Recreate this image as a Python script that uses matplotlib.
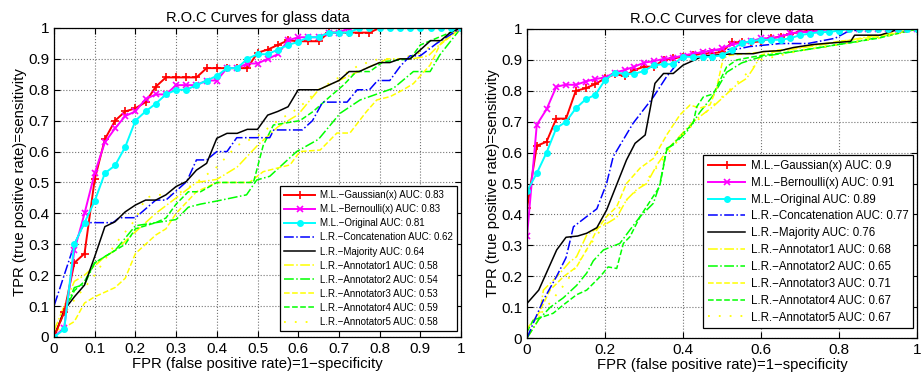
import numpy as np
import matplotlib.pyplot as plt

plt.rcParams['font.family'] = ['Liberation Sans', 'DejaVu Sans']

# shared FPR grid (step 1/40) used by the marker curves
fpr_steps = [0, 0.025, 0.05, 0.075, 0.1, 0.125, 0.15, 0.175, 0.2, 0.225,
             0.25, 0.275, 0.3, 0.325, 0.35, 0.375, 0.4, 0.425, 0.45, 0.475,
             0.5, 0.525, 0.55, 0.575, 0.6, 0.625, 0.65, 0.675, 0.7, 0.725,
             0.75, 0.775, 0.8, 0.825, 0.85, 0.875, 0.9, 0.925, 0.95, 0.975, 1.0]

# ---------------- glass data ----------------
glass_gauss_fpr = fpr_steps[:33] + [1.0]
glass_gauss_tpr = [0, 0.08, 0.24, 0.27, 0.51, 0.64, 0.70, 0.73, 0.74, 0.76,
                   0.81, 0.84, 0.84, 0.84, 0.84, 0.87, 0.87, 0.87, 0.87, 0.87,
                   0.92, 0.93, 0.945, 0.96, 0.957, 0.957, 0.957, 0.985, 0.985, 0.985,
                   0.985, 0.985, 1.0, 1.0]
glass_bern_fpr = fpr_steps[:30] + [1.0]
glass_bern_tpr = [0, 0.03, 0.28, 0.40, 0.53, 0.63, 0.675, 0.715, 0.73, 0.77,
                  0.785, 0.785, 0.815, 0.815, 0.815, 0.83, 0.83, 0.87, 0.87, 0.885,
                  0.885, 0.90, 0.915, 0.96, 0.97, 0.97, 0.97, 0.985, 0.985, 1.0, 1.0]
glass_orig_fpr = fpr_steps
glass_orig_tpr = [0, 0.025, 0.30, 0.37, 0.44, 0.53, 0.555, 0.615, 0.70, 0.73,
                  0.755, 0.785, 0.80, 0.80, 0.815, 0.83, 0.845, 0.87, 0.87, 0.90,
                  0.915, 0.915, 0.93, 0.945, 0.955, 0.97, 0.97, 0.985, 0.985, 0.985,
                  1.0, 1.0, 1.0, 1.0, 1.0, 1.0, 1.0, 1.0, 1.0, 1.0, 1.0]
glass_concat_fpr = [0, 0, 0.025, 0.05, 0.075, 0.145, 0.16, 0.2, 0.25, 0.275, 0.326,
                    0.35, 0.375, 0.4, 0.425, 0.449, 0.53, 0.54, 0.61, 0.635, 0.66,
                    0.72, 0.745, 0.775, 0.795, 0.825, 0.85, 0.875, 0.9, 0.94, 1.0]
glass_concat_tpr = [0, 0.1, 0.2, 0.30, 0.37, 0.37, 0.386, 0.386, 0.443, 0.443, 0.503,
                    0.573, 0.573, 0.60, 0.60, 0.645, 0.645, 0.67, 0.67, 0.70, 0.76,
                    0.76, 0.80, 0.80, 0.83, 0.83, 0.875, 0.91, 0.91, 0.95, 1.0]
glass_major_fpr = fpr_steps
glass_major_tpr = [0, 0.087, 0.13, 0.168, 0.26, 0.357, 0.373, 0.405, 0.427, 0.443,
                   0.443, 0.46, 0.487, 0.503, 0.54, 0.562, 0.643, 0.659, 0.659, 0.672,
                   0.672, 0.718, 0.73, 0.745, 0.80, 0.80, 0.80, 0.815, 0.83, 0.859,
                   0.859, 0.874, 0.888, 0.888, 0.90, 0.90, 0.929, 0.959, 0.959, 0.987, 1.0]
glass_a1_fpr = [0, 0.025, 0.05, 0.075, 0.1, 0.125, 0.15, 0.2, 0.25, 0.3, 0.35, 0.4,
                0.45, 0.5, 0.55, 0.6, 0.65, 0.7, 0.75, 0.82, 0.88, 0.92, 0.95, 1.0]
glass_a1_tpr = [0.02, 0.1, 0.18, 0.2, 0.23, 0.26, 0.28, 0.34, 0.40, 0.45, 0.50, 0.51,
                0.55, 0.62, 0.68, 0.72, 0.80, 0.83, 0.86, 0.90, 0.90, 0.91, 0.95, 1.0]
glass_a2_fpr = [0, 0.025, 0.05, 0.075, 0.1, 0.125, 0.15, 0.2, 0.25, 0.3, 0.33, 0.36,
                0.4, 0.473, 0.498, 0.53, 0.596, 0.65, 0.703, 0.752, 0.834, 0.883,
                0.924, 0.948, 1.0]
glass_a2_tpr = [0, 0.08, 0.16, 0.17, 0.24, 0.26, 0.28, 0.36, 0.37, 0.38, 0.42, 0.43,
                0.44, 0.46, 0.508, 0.52, 0.60, 0.64, 0.724, 0.767, 0.805, 0.859,
                0.859, 0.913, 1.0]
glass_a3_fpr = [0, 0.025, 0.05, 0.075, 0.1, 0.15, 0.175, 0.2, 0.225, 0.25, 0.275, 0.3,
                0.35, 0.4, 0.48, 0.514, 0.58, 0.604, 0.654, 0.695, 0.727, 0.768,
                0.793, 0.826, 0.858, 0.883, 0.924, 0.948, 1.0]
glass_a3_tpr = [0.02, 0.03, 0.05, 0.11, 0.13, 0.16, 0.19, 0.27, 0.30, 0.33, 0.35, 0.40,
                0.47, 0.50, 0.50, 0.535, 0.557, 0.60, 0.605, 0.66, 0.66, 0.73,
                0.767, 0.778, 0.80, 0.82, 0.88, 0.945, 1.0]
glass_a4_fpr = [0, 0.025, 0.05, 0.075, 0.1, 0.125, 0.15, 0.175, 0.2, 0.25, 0.275, 0.3,
                0.33, 0.36, 0.4, 0.49, 0.514, 0.539, 0.604, 0.637, 0.678, 0.711,
                0.743, 0.776, 0.809, 0.875, 0.9, 0.94, 1.0]
glass_a4_tpr = [0, 0.08, 0.15, 0.18, 0.24, 0.26, 0.28, 0.30, 0.35, 0.37, 0.385, 0.43,
                0.47, 0.47, 0.50, 0.50, 0.62, 0.686, 0.70, 0.73, 0.778, 0.815,
                0.859, 0.859, 0.891, 0.90, 0.945, 0.967, 1.0]
glass_a5_fpr = [0, 0.05, 0.1, 0.15, 0.2, 0.225, 0.25, 0.3, 0.35, 0.4, 0.45, 0.5,
                0.55, 0.6, 0.65, 0.7, 0.75, 0.8, 0.85, 0.9, 0.95, 1.0]
glass_a5_tpr = [0.03, 0.12, 0.2, 0.3, 0.38, 0.45, 0.46, 0.46, 0.5, 0.55, 0.62, 0.65,
                0.70, 0.74, 0.80, 0.84, 0.88, 0.90, 0.90, 0.92, 0.96, 1.0]
glass_auc = [0.83, 0.83, 0.81, 0.62, 0.64, 0.58, 0.54, 0.53, 0.59, 0.58]

# ---------------- cleve data ----------------
cleve_gauss_fpr = fpr_steps
cleve_gauss_tpr = [0.42, 0.622, 0.635, 0.71, 0.71, 0.80, 0.808, 0.822, 0.84, 0.854,
                   0.848, 0.867, 0.878, 0.878, 0.90, 0.905, 0.91, 0.915, 0.92, 0.922,
                   0.925, 0.957, 0.957, 0.957, 0.96, 0.97, 0.975, 0.985, 0.99, 0.995,
                   1.0, 1.0, 1.0, 1.0, 1.0, 1.0, 1.0, 1.0, 1.0, 1.0, 1.0]
cleve_bern_fpr = fpr_steps
cleve_bern_tpr = [0.33, 0.69, 0.74, 0.813, 0.82, 0.819, 0.83, 0.838, 0.843, 0.859,
                  0.867, 0.878, 0.891, 0.896, 0.903, 0.907, 0.914, 0.92, 0.925, 0.93,
                  0.937, 0.95, 0.955, 0.96, 0.97, 0.97, 0.975, 0.986, 0.99, 0.99,
                  0.995, 1.0, 1.0, 1.0, 1.0, 1.0, 1.0, 1.0, 1.0, 1.0, 1.0]
cleve_orig_fpr = fpr_steps
cleve_orig_tpr = [0.475, 0.533, 0.60, 0.679, 0.70, 0.743, 0.772, 0.787, 0.835, 0.859,
                  0.855, 0.855, 0.864, 0.883, 0.886, 0.886, 0.91, 0.91, 0.91, 0.91,
                  0.915, 0.932, 0.955, 0.96, 0.965, 0.965, 0.965, 0.97, 0.98, 0.985,
                  0.99, 0.99, 0.995, 1.0, 1.0, 1.0, 1.0, 1.0, 1.0, 1.0, 1.0]
cleve_concat_fpr = [0, 0.02, 0.042, 0.076, 0.1, 0.119, 0.153, 0.179, 0.204, 0.221,
                    0.272, 0.324, 0.358, 0.384, 0.41, 0.478, 0.54, 0.57, 0.65, 0.72,
                    0.79, 0.82, 0.86, 1.0]
cleve_concat_tpr = [0.0, 0.06, 0.123, 0.2, 0.26, 0.36, 0.393, 0.418, 0.50, 0.587,
                    0.695, 0.78, 0.846, 0.886, 0.916, 0.932, 0.935, 0.943, 0.953, 0.953,
                    0.97, 0.99, 1.0, 1.0]
cleve_major_fpr = [0, 0.03, 0.076, 0.1, 0.13, 0.153, 0.179, 0.204, 0.226, 0.255, 0.277,
                   0.303, 0.328, 0.35, 0.375, 0.40, 0.43, 0.452, 0.48, 0.53, 0.58,
                   0.606, 0.65, 0.683, 0.735, 0.83, 0.84, 0.905, 0.955, 1.0]
cleve_major_tpr = [0.112, 0.155, 0.285, 0.326, 0.33, 0.339, 0.357, 0.414, 0.484, 0.576,
                   0.63, 0.657, 0.824, 0.856, 0.856, 0.883, 0.90, 0.913, 0.915, 0.92,
                   0.92, 0.927, 0.93, 0.94, 0.95, 0.96, 0.98, 0.98, 1.0, 1.0]
cleve_a1_fpr = [0, 0.03, 0.042, 0.076, 0.11, 0.127, 0.153, 0.179, 0.204, 0.23, 0.255,
                0.281, 0.307, 0.333, 0.367, 0.426, 0.478, 0.538, 0.563, 0.58, 0.6,
                0.64, 0.726, 0.81, 0.897, 1.0]
cleve_a1_tpr = [0.0, 0.06, 0.155, 0.198, 0.247, 0.263, 0.333, 0.355, 0.37, 0.39, 0.447,
                0.48, 0.50, 0.56, 0.62, 0.70, 0.75, 0.82, 0.84, 0.872, 0.916,
                0.927, 0.943, 0.96, 0.98, 1.0]
cleve_a2_fpr = [0, 0.03, 0.06, 0.093, 0.127, 0.153, 0.17, 0.196, 0.238, 0.264, 0.29,
                0.324, 0.341, 0.358, 0.375, 0.41, 0.444, 0.478, 0.512, 0.55, 0.6,
                0.65, 0.75, 0.85, 1.0]
cleve_a2_tpr = [0, 0.06, 0.1, 0.13, 0.17, 0.21, 0.25, 0.285, 0.306, 0.35, 0.393,
                0.436, 0.50, 0.614, 0.625, 0.668, 0.732, 0.786, 0.86, 0.89, 0.91,
                0.92, 0.94, 0.96, 1.0]
cleve_a3_fpr = [0, 0.03, 0.059, 0.093, 0.127, 0.162, 0.179, 0.204, 0.23, 0.255, 0.29,
                0.324, 0.358, 0.392, 0.418, 0.443, 0.469, 0.486, 0.503, 0.52, 0.6,
                0.7, 0.8, 0.9, 1.0]
cleve_a3_tpr = [0.03, 0.08, 0.155, 0.198, 0.23, 0.306, 0.35, 0.393, 0.425, 0.50, 0.55,
                0.581, 0.657, 0.722, 0.754, 0.744, 0.754, 0.808, 0.905, 0.915, 0.925,
                0.94, 0.96, 0.975, 1.0]
cleve_a4_fpr = [0, 0.016, 0.067, 0.093, 0.127, 0.153, 0.187, 0.208, 0.23, 0.247, 0.264,
                0.29, 0.34, 0.358, 0.384, 0.40, 0.426, 0.435, 0.452, 0.478, 0.512,
                0.538, 0.58, 0.7, 0.8, 0.9, 1.0]
cleve_a4_tpr = [0.02, 0.058, 0.08, 0.107, 0.14, 0.155, 0.198, 0.23, 0.225, 0.306, 0.328,
                0.393, 0.49, 0.608, 0.64, 0.662, 0.695, 0.748, 0.78, 0.79, 0.878,
                0.90, 0.91, 0.93, 0.95, 0.97, 1.0]
cleve_a5_fpr = [0, 0.05, 0.1, 0.15, 0.2, 0.25, 0.3, 0.35, 0.4, 0.45, 0.5, 0.55, 0.6,
                0.7, 0.8, 0.9, 1.0]
cleve_a5_tpr = [0.03, 0.1, 0.18, 0.28, 0.37, 0.44, 0.5, 0.58, 0.66, 0.72, 0.78, 0.84,
                0.9, 0.93, 0.95, 0.97, 1.0]
cleve_auc = [0.9, 0.91, 0.89, 0.77, 0.76, 0.68, 0.65, 0.71, 0.67, 0.67]

names = ['M.L.\u2212Gaussian(x)', 'M.L.\u2212Bernoulli(x)', 'M.L.\u2212Original',
         'L.R.\u2212Concatenation', 'L.R.\u2212Majority', 'L.R.\u2212Annotator1',
         'L.R.\u2212Annotator2', 'L.R.\u2212Annotator3', 'L.R.\u2212Annotator4',
         'L.R.\u2212Annotator5']

styles = [
    dict(color='#ff0000', ls='-', lw=1.4, marker='+', ms=6, mew=1.2),
    dict(color='#ff00ff', ls='-', lw=1.4, marker='x', ms=4.5, mew=1.2),
    dict(color='#00ffff', ls='-', lw=1.4, marker='o', ms=4),
    dict(color='#0000ff', ls='-.', lw=1.1),
    dict(color='black', ls='-', lw=1.1),
    dict(color='#ffff00', ls='-.', lw=1.1),
    dict(color='#00ff00', ls='-.', lw=1.1),
    dict(color='#ffff00', ls='--', lw=1.1),
    dict(color='#00ff00', ls='--', lw=1.1),
    dict(color='#ffff00', ls=(0, (1, 5)), lw=1.3),
]

glass_curves = [(glass_gauss_fpr, glass_gauss_tpr), (glass_bern_fpr, glass_bern_tpr),
                (glass_orig_fpr, glass_orig_tpr), (glass_concat_fpr, glass_concat_tpr),
                (glass_major_fpr, glass_major_tpr), (glass_a1_fpr, glass_a1_tpr),
                (glass_a2_fpr, glass_a2_tpr), (glass_a3_fpr, glass_a3_tpr),
                (glass_a4_fpr, glass_a4_tpr), (glass_a5_fpr, glass_a5_tpr)]
cleve_curves = [(cleve_gauss_fpr, cleve_gauss_tpr), (cleve_bern_fpr, cleve_bern_tpr),
                (cleve_orig_fpr, cleve_orig_tpr), (cleve_concat_fpr, cleve_concat_tpr),
                (cleve_major_fpr, cleve_major_tpr), (cleve_a1_fpr, cleve_a1_tpr),
                (cleve_a2_fpr, cleve_a2_tpr), (cleve_a3_fpr, cleve_a3_tpr),
                (cleve_a4_fpr, cleve_a4_tpr), (cleve_a5_fpr, cleve_a5_tpr)]

fig = plt.figure(figsize=(9.23, 3.78), dpi=100)
ax1 = fig.add_axes([0.0585, 0.1085, 0.441, 0.8175])
ax2 = fig.add_axes([0.571, 0.1058, 0.4225, 0.8175])


def draw(ax, curves, aucs, title, xticks, leg_font, leg_space, leg_anchor):
    # draw annotator lines first so the M.L. curves sit on top
    order = [5, 6, 7, 8, 9, 3, 4, 0, 1, 2]
    handles = {}
    for i in order:
        fpr, tpr = curves[i]
        h, = ax.plot(fpr, tpr, label='%s AUC: %s' % (names[i], aucs[i]), **styles[i])
        handles[i] = h
    ax.set_xlim(0, 1)
    ax.set_ylim(0, 1)
    ax.set_xticks(xticks)
    ax.set_xticklabels(['%g' % t for t in xticks])
    yt = [0, 0.1, 0.2, 0.3, 0.4, 0.5, 0.6, 0.7, 0.8, 0.9, 1]
    ax.set_yticks(yt)
    ax.set_yticklabels(['%g' % t for t in yt])
    ax.grid(True, ls=':', color='0.45', lw=0.8)
    ax.tick_params(direction='in', top=True, right=True, length=4, labelsize=11,
                   width=0.8)
    for s in ax.spines.values():
        s.set_linewidth(0.9)
    ax.set_title(title, fontsize=10.5, pad=4)
    ax.set_xlabel('FPR (false positive rate)=1\u2212specificity', fontsize=10.7, labelpad=1)
    ax.set_ylabel('TPR (true positive rate)=sensitivity', fontsize=10.7, labelpad=1)
    leg = ax.legend([handles[i] for i in range(10)], [handles[i].get_label() for i in range(10)],
                    loc='lower right', bbox_to_anchor=leg_anchor, fontsize=leg_font,
                    labelspacing=leg_space, handlelength=3.2, handletextpad=0.5,
                    borderpad=0.4, fancybox=False, framealpha=1, edgecolor='black',
                    borderaxespad=0)
    leg.get_frame().set_linewidth(0.9)


draw(ax1, glass_curves, glass_auc, 'R.O.C Curves for glass data',
     [0, 0.1, 0.2, 0.3, 0.4, 0.5, 0.6, 0.7, 0.8, 0.9, 1], 7, 0.42, (0.99, 0.02))
draw(ax2, cleve_curves, cleve_auc, 'R.O.C Curves for cleve data',
     [0, 0.2, 0.4, 0.6, 0.8, 1], 8.3, 0.42, (0.99, 0.032))

fig.savefig('out.png', dpi=100)
